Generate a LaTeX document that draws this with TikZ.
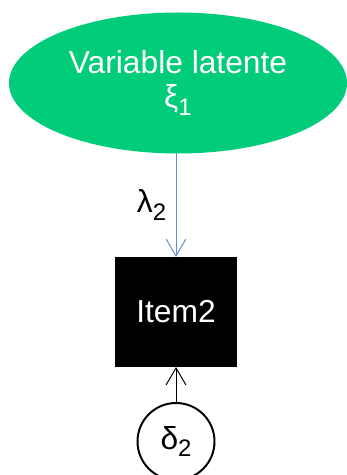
\documentclass[tikz,border=0pt]{standalone}
\usepackage{fontspec}
\setmainfont{Liberation Sans}
\usetikzlibrary{arrows.meta,positioning,shapes.geometric}
\definecolor{latentgreen}{RGB}{0,204,122}
\definecolor{loadblue}{RGB}{100,140,215}
\newcommand{\idx}[1]{\raisebox{-0.25em}{\fontsize{17}{17}\selectfont #1}}
\tikzset{
  every picture/.style={line width=0.7pt, font=\fontsize{22.6}{23.6}\selectfont},
  latent/.style={ellipse, fill=latentgreen, text=white, align=center, minimum width=84.5mm, minimum height=35.25mm, inner sep=0pt, outer sep=0pt},
  observed/.style={rectangle, fill=black, text=white, minimum width=30.5mm, minimum height=27.5mm, inner sep=0pt, outer sep=0pt},
  errnode/.style={circle, draw=black, line width=1.4pt, minimum size=19.25mm, inner sep=0pt, outer sep=0pt},
  load/.style={-{Straight Barb[length=12pt,width=14pt]}, color=loadblue, line width=0.7pt},
  errarrow/.style={-{Straight Barb[length=12pt,width=14pt]}, color=black, line width=0.7pt},
  lbl/.style={inner sep=1pt, text=black},
}
\begin{document}
\begin{tikzpicture}
  \useasboundingbox (0,0) rectangle (8.65,-11.875);
  \node[latent] (xi) at (4.45,-2.075) {Variable latente\\ξ\idx{1}};
  \node[observed] (item) at (4.4,-7.8) {Item2};
  \node[errnode, below=9mm of item] (delta) {δ\idx{2}};
  \draw[load] (item.north |- xi.south) -- (item.north) node[lbl, midway, left=2mm] (lam) {λ\idx{2}};
  \draw[errarrow] (delta) -- (item);
\end{tikzpicture}
\end{document}
